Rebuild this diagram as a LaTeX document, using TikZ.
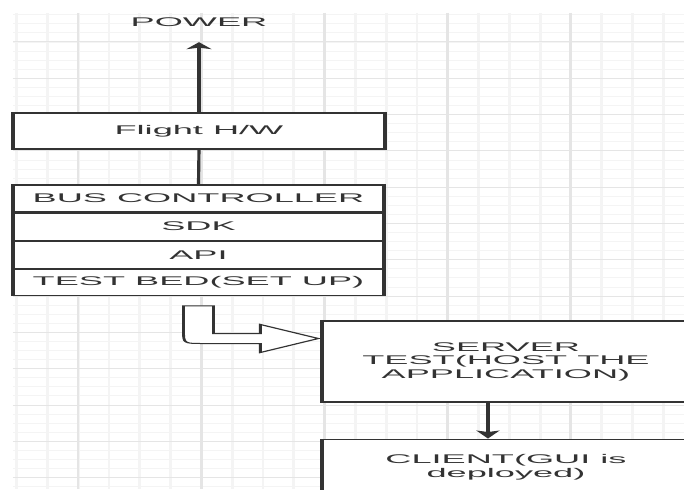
\documentclass[tikz,border=0pt]{standalone}
\usepackage{fontspec}
\setmainfont{Liberation Sans}
\usetikzlibrary{positioning,arrows.meta}
\definecolor{ink}{HTML}{333333}

\begin{document}
\begin{tikzpicture}[
    box/.style={draw=ink, fill=white, line width=1.1pt, inner sep=0pt,
      align=center, text=ink, font=\fontsize{12.6}{13.5}\selectfont},
    freetext/.style={inner sep=0pt, text=ink, font=\fontsize{12.6}{13.5}\selectfont},
    conn/.style={draw=ink, line width=1.1pt},
    fatarrow/.style={draw=ink, fill=white, line width=1pt},
    gridminor/.style={draw=gray!9, line width=1pt},
    gridmajor/.style={draw=gray!20, line width=1pt}]
  \useasboundingbox (0,0) rectangle (684pt,-489pt);
  % everything is stretched sideways, one x unit is one pixel
  \begin{scope}[x=0.3484pt, y=-1pt, transform canvas={xscale=2.87}]
  \clip (0,0) rectangle (684,489);
  % background grid
  \begin{scope}
    \clip (13,13) rectangle (684,489);
    \foreach \k in {0,...,52} \draw[gridminor] (13,14.8+9.075*\k) -- (684,14.8+9.075*\k);
    \foreach \k in {0,...,21} \draw[gridminor] (16.6+30.8*\k,13) -- (16.6+30.8*\k,489);
    \foreach \k in {0,...,12} \draw[gridmajor] (13,42+36.3*\k) -- (684,42+36.3*\k);
    \foreach \k in {0,...,4} \draw[gridmajor] (78+123.2*\k,13) -- (78+123.2*\k,489);
  \end{scope}
  % hardware side (left)
  \node[freetext] (power) at (199,22.5) {POWER};
  \node[box, minimum width=129.6pt, minimum height=36pt] (flight) at (199,131) {Flight H/W};
  \node[box, minimum width=129.3pt, minimum height=27pt] (bus) at (198.5,198.5) {BUS CONTROLLER};
  \node[box, minimum width=129.3pt, minimum height=27pt, below=0pt of bus] (sdk) {SDK};
  \node[box, minimum width=129.3pt, minimum height=27pt, below=0pt of sdk] (api) {API};
  \node[box, minimum width=129.3pt, minimum height=26pt, below=0pt of api] (test) {TEST BED(SET UP)};
  % server and client (right)
  \node[box, minimum width=128.2pt, minimum height=81pt] (server) at (506,361.5)
    {SERVER\\TEST(HOST THE\\APPLICATION)};
  \node[box, minimum width=128.2pt, minimum height=56pt, below=36pt of server] (client)
    {CLIENT(GUI is\\deployed)};
  % connectors
  \draw[conn, -{Stealth[length=7pt, width=8.7pt, inset=1.5pt]}, shorten >=15pt] (flight.north) -- (power.south);
  \draw[conn] (bus.north) -- (flight.south);
  \draw[conn, -{Stealth[length=8pt, width=8pt, inset=1.5pt]}] ([shift={(-18,0)}]server.south) -- ([shift={(-18,0)}]client.north);
  % bent block arrow from the test bed to the server
  \coordinate (tail) at ([shift={(0,10)}]test.south);
  \coordinate (tip) at ([shift={(-2,-23)}]server.west);
  \coordinate (bend) at (tail |- tip);
  \draw[fatarrow] ([shift={(-15,0)}]tail) -- ([shift={(15,0)}]tail) -- ([shift={(15,-5)}]bend)
    -- ([shift={(-58,-5)}]tip) -- ([shift={(-58,-14)}]tip) -- (tip)
    -- ([shift={(-58,14)}]tip) -- ([shift={(-58,5)}]tip) -- ([shift={(5,5)}]bend)
    .. controls ([shift={(-15,5)}]bend) .. ([shift={(-15,-8)}]bend) -- cycle;
  \end{scope}
\end{tikzpicture}
\end{document}
